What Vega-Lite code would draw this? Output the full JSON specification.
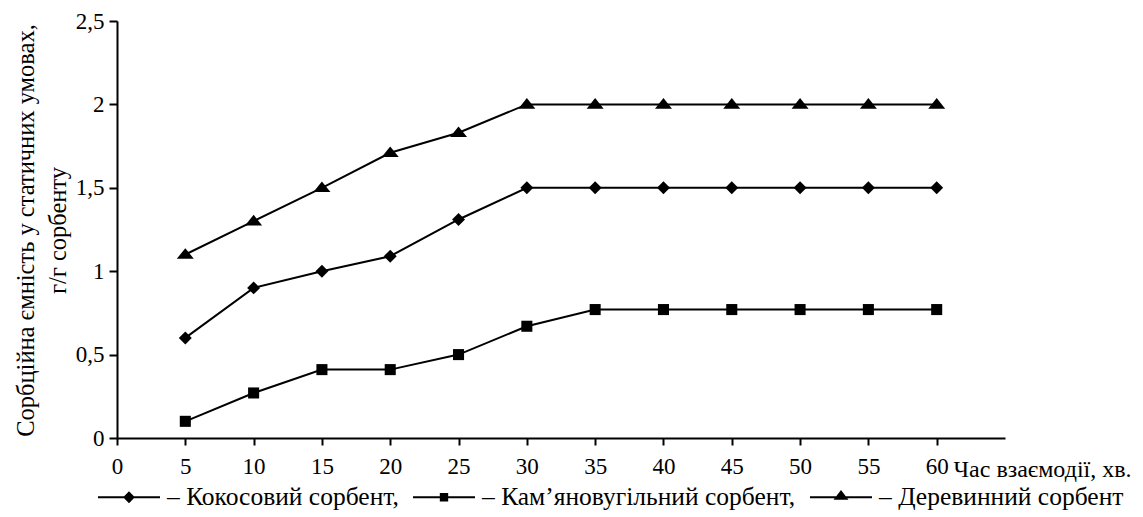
{
  "$schema": "https://vega.github.io/schema/vega-lite/v6.json",
  "width": 888,
  "height": 417,
  "autosize": {"type": "none"},
  "padding": {"left": 117, "top": 21, "right": 138, "bottom": 79},
  "background": "white",
  "config": {
    "view": {"stroke": null},
    "font": "Liberation Serif",
    "axis": {
      "grid": false,
      "domainColor": "black",
      "domainWidth": 2,
      "tickColor": "black",
      "tickWidth": 2,
      "labelColor": "black",
      "titleColor": "black",
      "labelFont": "Liberation Serif",
      "titleFont": "Liberation Serif",
      "labelFontSize": 23,
      "titleFontSize": 24.5,
      "titleFontWeight": "normal",
      "labelFlush": false,
      "labelOverlap": false
    }
  },
  "data": {
    "values": [
      {"t": 5, "v": 0.6, "s": "Кокосовий сорбент"},
      {"t": 10, "v": 0.9, "s": "Кокосовий сорбент"},
      {"t": 15, "v": 1.0, "s": "Кокосовий сорбент"},
      {"t": 20, "v": 1.09, "s": "Кокосовий сорбент"},
      {"t": 25, "v": 1.31, "s": "Кокосовий сорбент"},
      {"t": 30, "v": 1.5, "s": "Кокосовий сорбент"},
      {"t": 35, "v": 1.5, "s": "Кокосовий сорбент"},
      {"t": 40, "v": 1.5, "s": "Кокосовий сорбент"},
      {"t": 45, "v": 1.5, "s": "Кокосовий сорбент"},
      {"t": 50, "v": 1.5, "s": "Кокосовий сорбент"},
      {"t": 55, "v": 1.5, "s": "Кокосовий сорбент"},
      {"t": 60, "v": 1.5, "s": "Кокосовий сорбент"},
      {"t": 5, "v": 0.1, "s": "Кам’яновугільний сорбент"},
      {"t": 10, "v": 0.27, "s": "Кам’яновугільний сорбент"},
      {"t": 15, "v": 0.41, "s": "Кам’яновугільний сорбент"},
      {"t": 20, "v": 0.41, "s": "Кам’яновугільний сорбент"},
      {"t": 25, "v": 0.5, "s": "Кам’яновугільний сорбент"},
      {"t": 30, "v": 0.67, "s": "Кам’яновугільний сорбент"},
      {"t": 35, "v": 0.77, "s": "Кам’яновугільний сорбент"},
      {"t": 40, "v": 0.77, "s": "Кам’яновугільний сорбент"},
      {"t": 45, "v": 0.77, "s": "Кам’яновугільний сорбент"},
      {"t": 50, "v": 0.77, "s": "Кам’яновугільний сорбент"},
      {"t": 55, "v": 0.77, "s": "Кам’яновугільний сорбент"},
      {"t": 60, "v": 0.77, "s": "Кам’яновугільний сорбент"},
      {"t": 5, "v": 1.1, "s": "Деревинний сорбент"},
      {"t": 10, "v": 1.3, "s": "Деревинний сорбент"},
      {"t": 15, "v": 1.5, "s": "Деревинний сорбент"},
      {"t": 20, "v": 1.71, "s": "Деревинний сорбент"},
      {"t": 25, "v": 1.83, "s": "Деревинний сорбент"},
      {"t": 30, "v": 2.0, "s": "Деревинний сорбент"},
      {"t": 35, "v": 2.0, "s": "Деревинний сорбент"},
      {"t": 40, "v": 2.0, "s": "Деревинний сорбент"},
      {"t": 45, "v": 2.0, "s": "Деревинний сорбент"},
      {"t": 50, "v": 2.0, "s": "Деревинний сорбент"},
      {"t": 55, "v": 2.0, "s": "Деревинний сорбент"},
      {"t": 60, "v": 2.0, "s": "Деревинний сорбент"}
    ]
  },
  "encoding": {
    "x": {
      "field": "t",
      "type": "quantitative",
      "scale": {"domain": [0, 65], "nice": false, "zero": false},
      "axis": {
        "values": [0, 5, 10, 15, 20, 25, 30, 35, 40, 45, 50, 55, 60],
        "title": "Час взаємодії, хв.",
        "titleAlign": "left",
        "titleAnchor": "start",
        "titleX": 836,
        "titleY": 31,
        "titleBaseline": "middle",
        "titleFontSize": 24,
        "tickSize": 7,
        "labelPadding": 10
      }
    },
    "y": {
      "field": "v",
      "type": "quantitative",
      "scale": {"domain": [0, 2.5], "nice": false},
      "axis": {
        "values": [0, 0.5, 1, 1.5, 2, 2.5],
        "format": "~g",
        "labelExpr": "replace(datum.label, '.', ',')",
        "title": ["Сорбційна ємність у статичних умовах,", "г/г сорбенту"],
        "titleAngle": -90,
        "titleAlign": "center",
        "titleBaseline": "alphabetic",
        "titleLineHeight": 32,
        "titleX": -84,
        "titleY": 209,
        "tickSize": 8,
        "labelPadding": 5
      }
    }
  },
  "layer": [
    {
      "mark": {"type": "line", "color": "black", "strokeWidth": 2},
      "encoding": {"detail": {"field": "s", "type": "nominal"}}
    },
    {
      "mark": {"type": "point", "filled": true, "color": "black", "opacity": 1, "size": 289},
      "encoding": {
        "shape": {
          "field": "s",
          "type": "nominal",
          "scale": {
            "domain": ["Кокосовий сорбент", "Кам’яновугільний сорбент", "Деревинний сорбент"],
            "range": [
              "M0,-0.76L0.76,0L0,0.76L-0.76,0Z",
              "M-0.65,-0.65L0.65,-0.65L0.65,0.65L-0.65,0.65Z",
              "M0,-0.75L1,0.5L-1,0.5Z"
            ]
          },
          "legend": null
        }
      }
    },
    {
      "transform": [{"filter": "datum.v > 100"}],
      "mark": {"type": "point", "filled": true, "color": "black", "opacity": 1, "size": 3844},
      "encoding": {
        "shape": {
          "field": "s",
          "type": "nominal",
          "scale": {
            "domain": ["Кокосовий сорбент", "Кам’яновугільний сорбент", "Деревинний сорбент"],
            "range": [
              "M-1,-0.03L1,-0.03L1,0.03L-1,0.03ZM0,-0.19L0.19,0L0,0.19L-0.19,0Z",
              "M-1,-0.03L1,-0.03L1,0.03L-1,0.03ZM-0.135,-0.135L0.135,-0.135L0.135,0.135L-0.135,0.135Z",
              "M-1,-0.03L1,-0.03L1,0.03L-1,0.03ZM0,-0.23L0.24,0.08L-0.24,0.08Z"
            ]
          },
          "legend": {
            "orient": "none",
            "legendX": -19,
            "legendY": 445,
            "direction": "horizontal",
            "columns": 3,
            "title": null,
            "labelFont": "Liberation Serif",
            "labelFontSize": 25.5,
            "labelColor": "black",
            "labelOffset": 7,
            "labelLimit": 0,
            "columnPadding": 14,
            "symbolSize": 3844,
            "symbolFillColor": "black",
            "symbolStrokeWidth": 0,
            "labelExpr": "'– ' + datum.label + (datum.label == 'Деревинний сорбент' ? '' : ',')",
            "encode": {
              "symbols": {
                "update": {
                  "fill": {"value": "black"},
                  "opacity": {"value": 1}
                }
              }
            }
          }
        }
      }
    }
  ],
  "resolve": {"scale": {"shape": "independent"}, "legend": {"shape": "independent"}}
}
